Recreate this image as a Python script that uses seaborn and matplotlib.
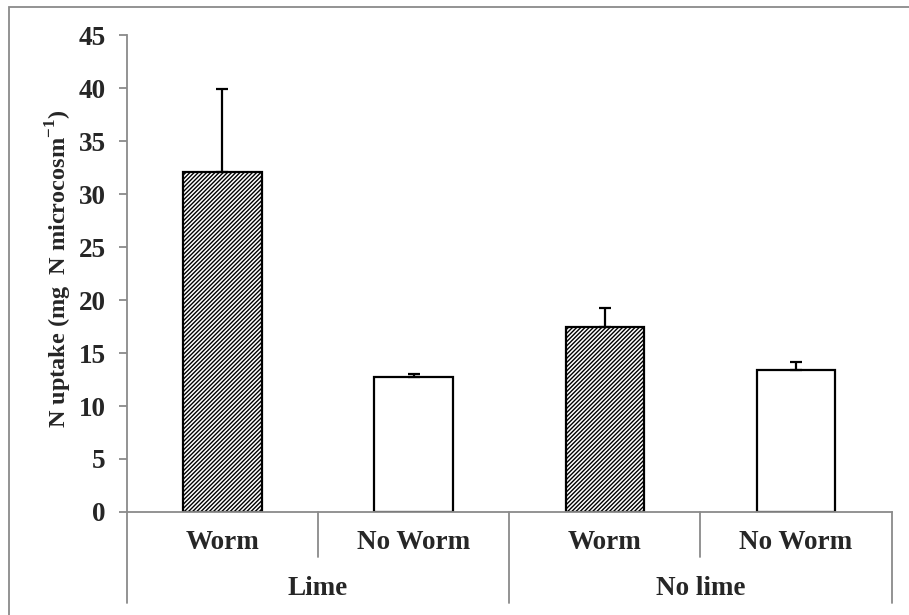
import pandas as pd
import numpy as np
import matplotlib
matplotlib.use("Agg")
import matplotlib.pyplot as plt
import matplotlib.transforms as mtransforms
from matplotlib.patches import Rectangle
import seaborn as sns

sns.set_style("white")
plt.rcParams['font.family'] = ['Liberation Serif', 'DejaVu Serif']
plt.rcParams['font.weight'] = 'bold'
plt.rcParams['mathtext.fontset'] = 'custom'
plt.rcParams['mathtext.rm'] = 'Liberation Serif:bold'
plt.rcParams['mathtext.bf'] = 'Liberation Serif:bold'
plt.rcParams['hatch.linewidth'] = 1.0
plt.rcParams['hatch.color'] = '#333333'

# data
groups = ["Lime", "Lime", "No lime", "No lime"]
treatments = ["Worm", "No Worm", "Worm", "No Worm"]
uptake = [32.1, 12.7, 17.5, 13.4]
err_up = [7.8, 0.3, 1.7, 0.75]
yticks = [0, 5, 10, 15, 20, 25, 30, 35, 40, 45]

df = pd.DataFrame({"group": groups, "treatment": treatments, "uptake": uptake})
df["key"] = df["group"] + " / " + df["treatment"]

fig = plt.figure(figsize=(9.09, 6.15), dpi=100)
ax = fig.add_axes([0.1394, 0.1675, 0.8416, 0.7755])

sns.barplot(data=df, x="key", y="uptake", order=list(df["key"]), color="white",
            edgecolor="black", linewidth=1.6, width=0.41, errorbar=None, ax=ax)

for patch, t in zip(ax.patches, df["treatment"]):
    if t == "Worm":
        patch.set_hatch("////////")

xpos = np.arange(len(df))
ax.errorbar(xpos, df["uptake"], yerr=[np.zeros(len(df)), err_up], fmt="none",
            ecolor="black", elinewidth=1.6, capsize=4.5, capthick=1.6, zorder=5)

fs = 19.5
ax.set_ylim(0, 45)
ax.set_xlim(-0.5, 3.5)
ax.set_yticks(yticks)
ax.set_yticklabels([str(v) for v in yticks], fontsize=fs, fontweight="bold")
ax.set_xticks([])
ax.set_xlabel("")
ax.set_ylabel(r"N uptake (mg  N microcosm$^{\mathbf{-1}}$)", fontsize=17.5,
              fontweight="bold", labelpad=3)
ax.yaxis.label.set_y(0.51)

gray = "#8a8a8a"
for s in ["top", "right"]:
    ax.spines[s].set_visible(False)
for s in ["left", "bottom"]:
    ax.spines[s].set_color(gray)
    ax.spines[s].set_linewidth(1.3)
ax.tick_params(axis="y", left=True, length=6, width=1.3, color=gray, pad=9)

# two-level category axis
trans = mtransforms.blended_transform_factory(ax.transData, ax.transAxes)
for x in [-0.5, 1.5, 3.5]:
    ax.plot([x, x], [0, -0.19], color=gray, lw=1.3, transform=trans, clip_on=False)
for x in [0.5, 2.5]:
    ax.plot([x, x], [0, -0.094], color=gray, lw=1.3, transform=trans, clip_on=False)
for x, t in zip(xpos, df["treatment"]):
    ax.text(x, -0.065, t, transform=trans, ha="center", va="center",
            fontsize=fs, fontweight="bold")
for x, g in [(0.5, "Lime"), (2.5, "No lime")]:
    ax.text(x, -0.161, g, transform=trans, ha="center", va="center",
            fontsize=fs, fontweight="bold")

# outer chart border
fig.patches.append(Rectangle((0.0099, -0.05), 1.05, 1.0386, transform=fig.transFigure,
                             fill=False, edgecolor=gray, linewidth=1.3))

fig.savefig("out.png", dpi=100)
